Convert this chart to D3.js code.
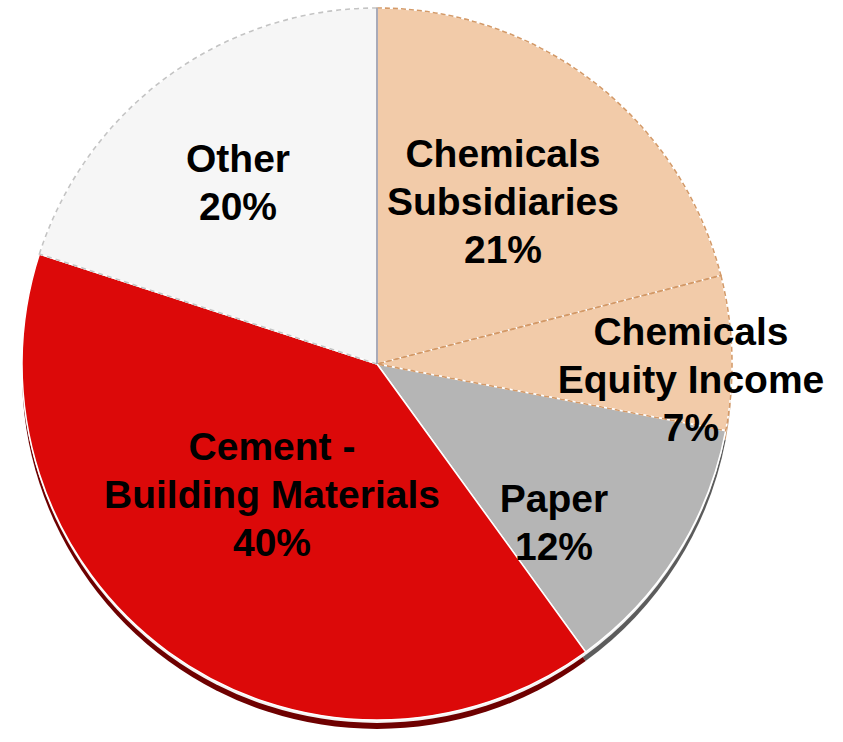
<!DOCTYPE html>
<html>
<head>
<meta charset="utf-8">
<script src="https://cdn.jsdelivr.net/npm/d3@7"></script>
<style>
  html, body { margin: 0; padding: 0; background: #ffffff; }
  svg { display: block; }
</style>
</head>
<body>
<svg id="chart" width="843" height="742"></svg>
<script>
// ---- data ----
const categories = ["Chemicals Subsidiaries", "Chemicals Equity Income", "Paper", "Cement - Building Materials", "Other"];
const labelLines = [
  ["Chemicals", "Subsidiaries"],
  ["Chemicals", "Equity Income"],
  ["Paper"],
  ["Cement -", "Building Materials"],
  ["Other"]
];
const shares = [21, 7, 12, 40, 20];

// ---- styles ----
const faceColors = ["#f2cba9", "#f2cba9", "#b5b5b5", "#dc0909", "#f6f6f6"];
const sideColors = ["#c99b74", "#c99b74", "#5c5c5c", "#6e0000", "#cfcfcf"];
const borderColors = ["#d49a68", "#d49a68", "#ffffff", "#ffffff", "#c4c4c4"];
const borderDash = ["5,3", "5,3", null, null, "5,4"];
// label anchor (center x, first baseline y) in pixels
const labelPos = [[503, 167], [691, 345], [554, 512], [272, 460], [238, 172]];

const svg = d3.select("#chart");
const cx = 377, cy = 364, rx = 355, ry = 356, depth = 9;

const pie = d3.pie().sort(null).value(d => d)(shares);
const arc = d3.arc().innerRadius(0).outerRadius(rx);

// side (3D depth) layer
const side = svg.append("g").attr("transform", `translate(${cx},${cy + depth}) scale(1,${ry / rx})`);
side.selectAll("path").data(pie).join("path")
  .attr("d", arc)
  .attr("fill", (d, i) => sideColors[i]);

// highlight line between face and side
const hl = svg.append("g").attr("transform", `translate(${cx},${cy + 3}) scale(1,${ry / rx})`);
hl.selectAll("path").data(pie).join("path")
  .attr("d", arc)
  .attr("fill", "#f4f4f4");

// top face
const face = svg.append("g").attr("transform", `translate(${cx},${cy}) scale(1,${ry / rx})`);
face.selectAll("path.slice").data(pie).join("path")
  .attr("class", "slice")
  .attr("d", arc)
  .attr("fill", (d, i) => faceColors[i])
  .attr("stroke", "#ffffff")
  .attr("stroke-width", 1.5);

// dashed borders
face.selectAll("path.border").data(pie).join("path")
  .attr("class", "border")
  .attr("d", arc)
  .attr("fill", "none")
  .attr("stroke", (d, i) => borderColors[i])
  .attr("stroke-width", (d, i) => borderDash[i] ? 1.6 : 0)
  .attr("stroke-dasharray", (d, i) => borderDash[i]);

// separator between Other and Chemicals Subsidiaries (vertical line)
face.append("line")
  .attr("x1", 0).attr("y1", 0).attr("x2", 0).attr("y2", -rx)
  .attr("stroke", "#a9aab8").attr("stroke-width", 2);

// labels
const lineH = 48;
const labels = svg.append("g")
  .attr("font-family", "'Liberation Sans', Arial, sans-serif")
  .attr("font-weight", "bold")
  .attr("font-size", 39)
  .attr("fill", "#000000")
  .attr("text-anchor", "middle");

pie.forEach((d, i) => {
  const lines = labelLines[i].concat([shares[i] + "%"]);
  const t = labels.append("text")
    .attr("x", labelPos[i][0])
    .attr("y", labelPos[i][1]);
  lines.forEach((ln, k) => {
    t.append("tspan")
      .attr("x", labelPos[i][0])
      .attr("dy", k === 0 ? 0 : lineH)
      .text(ln);
  });
});
</script>
</body>
</html>
